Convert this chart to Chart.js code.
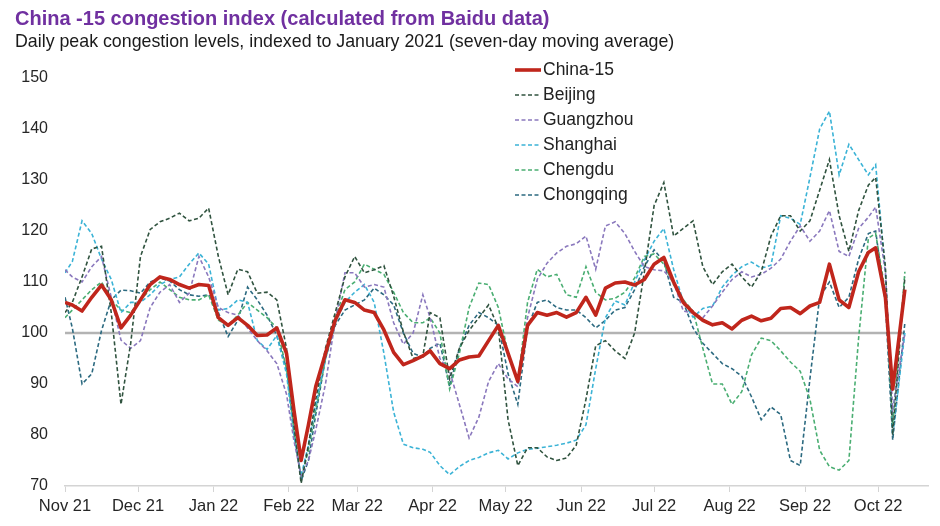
<!DOCTYPE html>
<html>
<head>
<meta charset="utf-8">
<script src="https://cdn.jsdelivr.net/npm/chart.js@4.4.0/dist/chart.umd.min.js"></script>
<style>
  body { margin: 0; background: #fff; }
  #wrap { position: relative; width: 940px; height: 526px; }
  #chart { position: absolute; left: 0; top: 0; }
  .title { position: absolute; left: 15px; top: 7px; font: bold 20px "Liberation Sans", Arial, sans-serif; color: #7030a0; white-space: nowrap; }
  .sub { position: absolute; left: 15px; top: 31px; font: 17.8px "Liberation Sans", Arial, sans-serif; color: #1a1a1a; white-space: nowrap; }
</style>
</head>
<body>
<div id="wrap">
  <canvas id="chart" width="940" height="526"></canvas>
  <div class="title">China -15 congestion index (calculated from Baidu data)</div>
  <div class="sub">Daily peak congestion levels, indexed to January 2021 (seven-day moving average)</div>
</div>
<script>
// days since 1 Nov 2021
const days = [0, 3, 7, 11, 15, 19, 23, 27, 31, 35,
  39, 43, 47, 51, 55, 59, 63, 67, 71, 75,
  79, 83, 87, 91, 94, 97, 100, 103, 107, 111,
  115, 119, 123, 127, 131, 135, 139, 143, 147, 150,
  154, 158, 162, 166, 170, 174, 178, 182, 186, 190,
  194, 198, 202, 206, 210, 214, 218, 222, 226, 230,
  234, 238, 242, 246, 250, 254, 258, 262, 266, 270,
  274, 278, 282, 286, 290, 294, 298, 302, 306, 310,
  314, 318, 322, 326, 330, 333, 337, 340, 345];

const china15 = [106, 105.5, 104.3, 107, 109.4, 106.5, 101, 103.5, 106.5, 109.5,
  111, 110.5, 109.5, 108.8, 109.5, 109.3, 103, 101.5, 103, 101.5,
  99.5, 99.6, 101, 96, 85, 75, 82, 89.5, 96, 102.5,
  106.5, 106, 104.5, 104, 100.6, 96.2, 93.8, 94.6, 95.5, 96.5,
  94, 93, 94.7, 95.3, 95.5, 98.5, 101.5, 96, 90.5, 101.5,
  104, 103.5, 104, 103.1, 104, 107, 103.5, 108.8, 109.8, 110,
  109.4, 110.5, 113.5, 114.8, 110, 106, 104, 102.5, 101.6, 102,
  100.8, 102.5, 103.3, 102.4, 102.9, 104.8, 105, 103.8, 105.3, 106,
  113.5, 106.5, 105, 112, 115.8, 116.7, 107, 89, 108.5];

const beijing = [104, 106, 111, 116.5, 117, 104, 86, 98, 115, 120.3,
  121.8, 122.5, 123.5, 122, 122.5, 124.5, 115, 107.5, 112.5, 112,
  107.8, 108, 106.5, 97, 82, 70.5, 78, 87, 97, 104,
  111, 115, 111.8, 112.4, 113.2, 107.2, 100.2, 95, 95.5, 104,
  103, 91, 97, 100.5, 103, 105.5, 101, 83, 74, 77.5,
  77.5, 75.7, 75, 75.5, 78, 87, 97.5, 98.5, 96.5, 95,
  100, 112, 125, 129.5, 119, 120.5, 122, 113, 109.5, 112,
  113.5, 111, 109, 112, 119, 123, 123, 120, 122, 128,
  134, 123, 116, 124, 129, 130.5, 113, 80, 111];

const guangzhou = [112.4, 111, 110, 113, 115, 107, 98.6, 97, 98.5, 105,
  108, 109.5, 106, 107.8, 115, 111, 105, 104, 103.5, 101,
  98.5, 96.5, 94, 88, 79, 72, 75, 81, 90, 102.5,
  111.8, 111.8, 109, 109.5, 109, 102, 97.8, 100, 107.5, 103,
  95, 92.5, 86, 79.4, 83.5, 90.5, 94, 91, 89.5, 103,
  110.5, 113.7, 115.7, 117, 117.5, 119, 112.5, 121, 121.8, 119.5,
  116, 113, 112.4, 112.2, 110, 104.3, 103.9, 103, 105.3, 108,
  110.5, 112, 111, 111.5, 112.7, 114.5, 118, 121, 118, 120,
  124, 116, 115, 120.5, 122.7, 124.7, 112, 85, 100];

const shanghai = [111.8, 114, 122, 119.5, 114.5, 110.5, 104, 106, 106, 107.5,
  109.5, 110.5, 111, 113.5, 115.7, 113.5, 104.5, 104.8, 106.5, 106,
  98.5, 96.8, 99.5, 92, 80, 72, 78, 86, 95, 102,
  106, 108, 109.5, 106, 96, 84.5, 78.2, 77.5, 77.2, 76.6,
  74, 72.2, 73.8, 75, 75.6, 76.5, 77, 75.3, 76.5, 77.2,
  77.4, 77.7, 78, 78.4, 79, 82, 93, 103, 106.3, 105.5,
  110, 114.3, 118, 120.5, 112.5, 106, 103.1, 104.8, 105.3, 109,
  111.3, 113, 113.9, 112.7, 113.3, 123, 122.5, 121.3, 130.5, 140,
  143.5, 131, 137, 134, 131, 133, 112, 80, 100];

const chengdu = [103, 104.5, 106.5, 108.5, 110, 106.5, 104.5, 104, 106.5, 108.5,
  110, 108.5, 107, 106.5, 106.5, 107.5, 102.5, 101.5, 103.5, 106,
  104.5, 103, 101, 93, 81, 71.5, 77, 85, 95, 103,
  108.5, 110, 113.5, 112.5, 111.5, 108, 104, 102, 102, 103,
  100, 89, 96, 105, 109.8, 109.5, 105, 96, 90.5, 106,
  112.5, 111, 111.5, 107.5, 107, 113, 108, 106.5, 106.8, 108,
  110.8, 115, 115.5, 113.5, 109.5, 106.5, 104.3, 97, 90, 90,
  86, 88.5, 95.7, 99, 98.5, 96.5, 94.3, 92.5, 87, 77,
  73.8, 73.1, 75, 99, 118.6, 119.5, 108, 82, 112];

const chongqing = [107, 101, 90, 92, 100.5, 106.5, 108.4, 108.3, 107.8, 110,
  110.8, 110.2, 108.5, 107.5, 107.2, 107.5, 104, 99.3, 102.5, 109,
  106.5, 103.5, 99.5, 93, 82, 71, 75, 84, 95, 101.5,
  104.5, 105.5, 106.5, 108.8, 107.5, 105.5, 100, 96, 95.3, 97,
  98, 89.5, 97, 101.5, 104, 103, 101.5, 92, 86, 101,
  106, 106.5, 105, 104.5, 104.5, 103, 101, 102.5, 104.5, 105,
  108.5, 113, 116.3, 114, 107, 106, 101, 98, 96, 94,
  93, 91.5, 87.5, 83, 85.5, 84, 75, 74, 91, 107,
  110, 105, 107, 114.5, 119.5, 120, 106, 79, 102];

const baseline = 100;
const monthDays = [0, 30, 61, 92, 120, 151, 181, 212, 242, 273, 304, 334];
const monthLabels = ["Nov 21", "Dec 21", "Jan 22", "Feb 22", "Mar 22", "Apr 22",
  "May 22", "Jun 22", "Jul 22", "Aug 22", "Sep 22", "Oct 22"];

const FONT = "'Liberation Sans', Arial, sans-serif";

function toPoints(values) {
  return days.map((d, i) => ({ x: d, y: values[i] }));
}

function dashed(label, values, color) {
  return {
    label: label,
    data: toPoints(values),
    borderColor: color,
    backgroundColor: color,
    borderWidth: 1.6,
    borderDash: [4, 2.5],
    pointRadius: 0,
    tension: 0
  };
}

const datasets = [
  {
    label: "China-15",
    data: toPoints(china15),
    borderColor: "#c0261c",
    backgroundColor: "#c0261c",
    borderWidth: 3.6,
    pointRadius: 0,
    tension: 0,
    borderJoinStyle: "round"
  },
  dashed("Beijing", beijing, "#30533f"),
  dashed("Guangzhou", guangzhou, "#8a78bd"),
  dashed("Shanghai", shanghai, "#3bb3d6"),
  dashed("Chengdu", chengdu, "#4aae72"),
  dashed("Chongqing", chongqing, "#2c6a80"),
  {
    label: "_base",
    data: [{ x: days[0], y: baseline }, { x: days[days.length - 1], y: baseline }],
    borderColor: "#b3b3b3",
    borderWidth: 2.5,
    pointRadius: 0
  }
];

// legend drawn as a vertical list inside the plot, like the original
const sideLegend = {
  id: "sideLegend",
  afterDraw(chart) {
    const ctx = chart.ctx;
    ctx.save();
    ctx.font = "17.5px " + FONT;
    ctx.textBaseline = "middle";
    ctx.fillStyle = "#222";
    chart.data.datasets.filter(ds => ds.label[0] !== "_").forEach((ds, i) => {
      const y = 70 + i * 25;
      ctx.beginPath();
      ctx.strokeStyle = ds.borderColor;
      ctx.lineWidth = ds.borderDash ? 1.6 : 3.6;
      ctx.setLineDash(ds.borderDash || []);
      ctx.moveTo(515, y);
      ctx.lineTo(541, y);
      ctx.stroke();
      ctx.setLineDash([]);
      ctx.fillText(ds.label, 543, y);
    });
    ctx.restore();
  }
};

new Chart(document.getElementById("chart"), {
  type: "line",
  data: { datasets },
  options: {
    responsive: false,
    animation: false,
    layout: { padding: { top: 78, right: 12, bottom: 0, left: 0 } },
    plugins: { legend: { display: false }, tooltip: { enabled: false } },
    scales: {
      x: {
        type: "linear",
        min: 0,
        max: 354.5,
        afterFit(scale) { scale.height = 40; },
        afterBuildTicks(scale) { scale.ticks = monthDays.map(v => ({ value: v })); },
        ticks: {
          autoSkip: false,
          maxRotation: 0,
          padding: 5,
          color: "#262626",
          font: { family: FONT, size: 16.5 },
          callback: (value, index) => monthLabels[index]
        },
        grid: {
          drawOnChartArea: false,
          drawTicks: true,
          tickLength: 6,
          color: "#d4d4d4"
        },
        border: { display: true, color: "#d4d4d4", width: 1.5 }
      },
      y: {
        min: 70,
        max: 150,
        afterFit(scale) { scale.width = 65; },
        ticks: {
          stepSize: 10,
          padding: 17,
          color: "#262626",
          font: { family: FONT, size: 16 }
        },
        grid: { display: false, drawTicks: false },
        border: { display: false }
      }
    }
  },
  plugins: [sideLegend]
});
</script>
</body>
</html>
